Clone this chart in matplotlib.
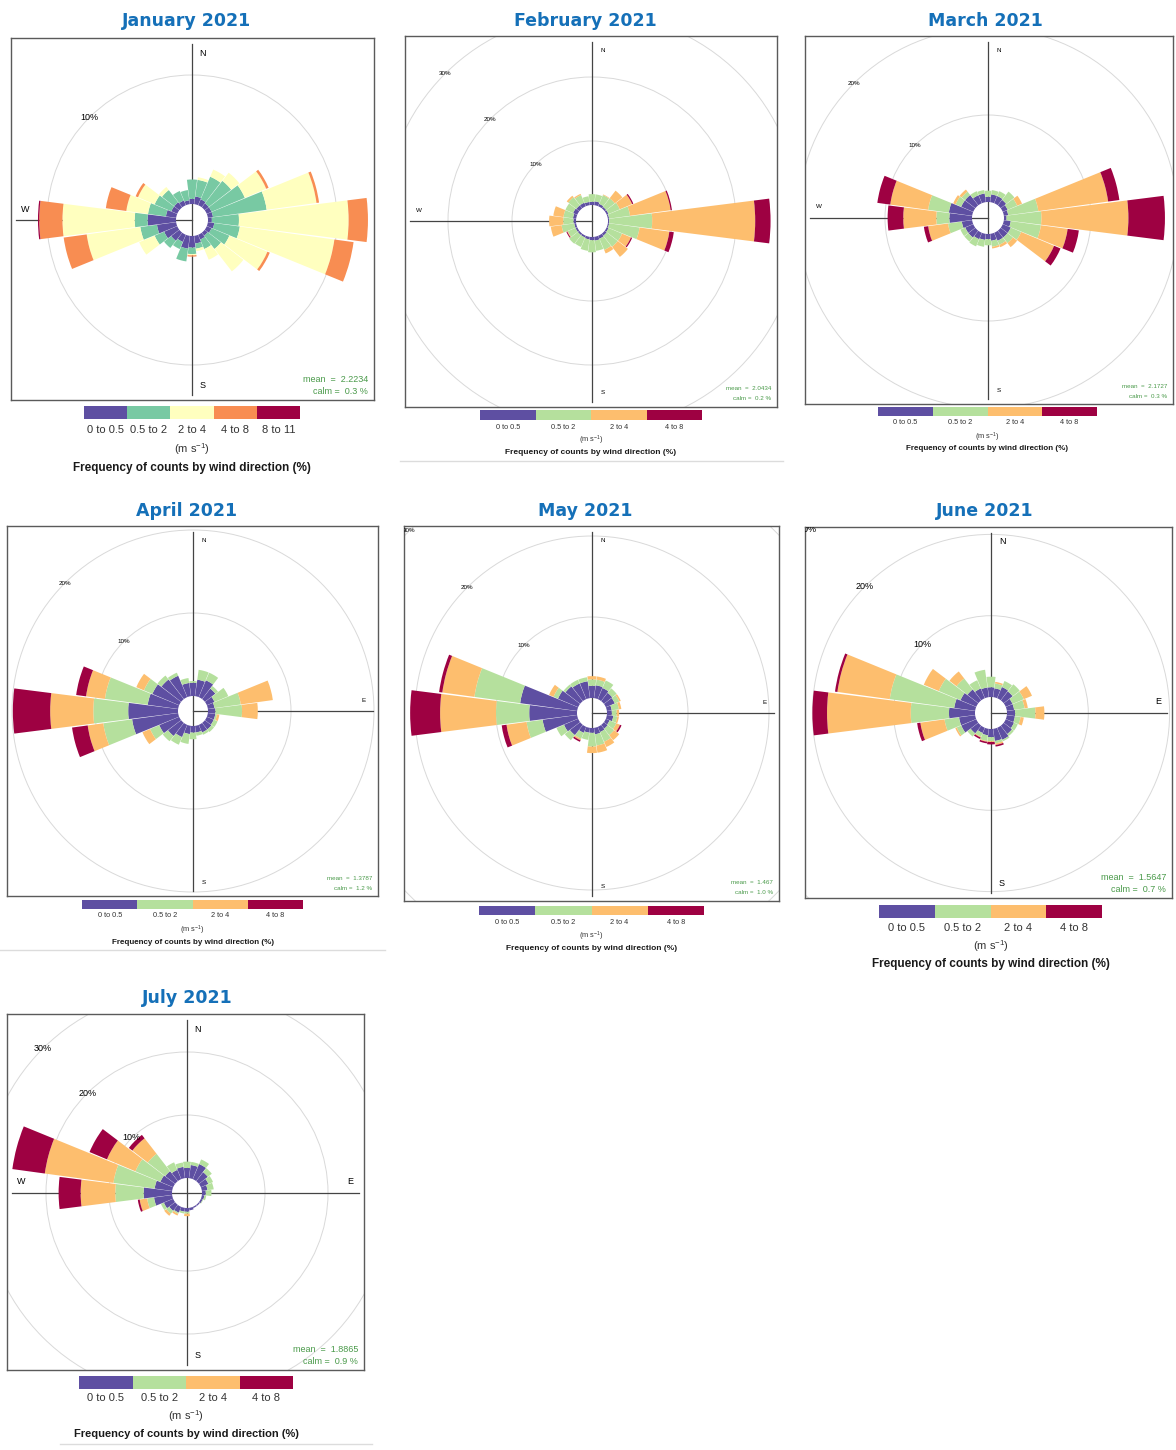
import matplotlib.pyplot as plt
import numpy as np
from matplotlib.patches import Wedge, Circle
from matplotlib.lines import Line2D

plt.rcParams['font.family'] = ['Liberation Sans', 'DejaVu Sans']
plt.rcParams['mathtext.default'] = 'regular'

W, H = 1176, 1450
fig = plt.figure(figsize=(W / 100, H / 100), dpi=100)

# wind direction sectors (15 degree bins, bearing the wind comes from)
directions = np.arange(0, 360, 15)

bands5 = ["0 to 0.5", "0.5 to 2", "2 to 4", "4 to 8", "8 to 11"]
bands4 = ["0 to 0.5", "0.5 to 2", "2 to 4", "4 to 8"]
colours5 = ["#5E4FA2", "#78C9A3", "#FFFFBF", "#F88D52", "#9E0142"]
colours4 = ["#5E4FA2", "#B5E09D", "#FDBE6E", "#9E0142"]

months = ["January 2021", "February 2021", "March 2021", "April 2021",
          "May 2021", "June 2021", "July 2021"]
means = ["2.2234", "2.0434", "2.1727", "1.3787", "1.467", "1.5647", "1.8865"]
calms = ["0.3", "0.2", "0.3", "1.2", "1.0", "0.7", "0.9"]

# cumulative frequency (%) at the top of each speed band, per direction
#          0    15   30   45   60   75   90  105  120  135  150  165  180  195  210  225  240  255  270  285  300  315  330  345
jan = [
    [0.4, 0.6, 0.5, 0.4, 0.4, 0.4, 0.3, 0.5, 0.4, 0.3, 0.4, 0.6, 0.9, 1.0, 0.6, 0.8, 1.1, 1.5, 2.2, 0.8, 0.5, 0.5, 0.4, 0.3],
    [1.9, 1.9, 2.4, 2.6, 3.2, 4.6, 2.4, 2.5, 1.9, 1.6, 1.2, 1.0, 1.4, 2.0, 1.2, 1.5, 1.9, 2.8, 3.2, 2.2, 1.9, 1.7, 1.2, 1.1],
    [1.9, 2.1, 3.0, 3.4, 5.0, 8.5, 10.9, 9.9, 5.1, 3.8, 2.1, 1.2, 1.5, 2.0, 1.2, 1.5, 3.2, 7.0, 8.8, 3.9, 3.3, 2.0, 1.2, 1.1],
    [1.9, 2.1, 3.0, 3.4, 5.2, 8.7, 12.4, 11.4, 5.3, 3.8, 2.1, 1.2, 1.6, 2.0, 1.2, 1.5, 3.2, 8.8, 10.6, 5.5, 3.5, 2.0, 1.2, 1.1],
    [1.9, 2.1, 3.0, 3.4, 5.2, 8.7, 12.4, 11.4, 5.3, 3.8, 2.1, 1.2, 1.6, 2.0, 1.2, 1.5, 3.2, 8.8, 10.7, 5.5, 3.5, 2.0, 1.2, 1.1],
]
feb = [
    [0.5, 0.6, 0.4, 0.3, 0.3, 0.2, 0.2, 0.2, 0.3, 0.4, 0.5, 0.6, 0.5, 0.4, 0.3, 0.3, 0.3, 0.3, 0.4, 0.5, 0.7, 0.6, 0.6, 0.5],
    [1.7, 1.7, 1.9, 2.0, 2.2, 3.5, 6.9, 5.0, 2.6, 2.6, 2.4, 2.2, 2.4, 2.2, 1.9, 2.0, 1.6, 2.3, 2.0, 2.0, 2.0, 2.2, 1.9, 1.4],
    [1.7, 1.7, 2.0, 3.5, 4.3, 9.9, 23.0, 9.7, 4.1, 4.6, 3.0, 2.2, 2.4, 2.2, 1.9, 2.0, 1.7, 4.0, 4.2, 3.6, 2.0, 2.5, 2.1, 1.4],
    [1.7, 1.7, 2.0, 3.5, 4.5, 10.1, 25.4, 10.4, 4.3, 4.6, 3.0, 2.2, 2.4, 2.2, 1.9, 2.0, 1.85, 4.0, 4.2, 3.6, 2.0, 2.5, 2.1, 1.4],
]
mar = [
    [0.6, 0.9, 0.9, 0.8, 0.6, 0.5, 0.3, 0.8, 1.0, 1.0, 1.0, 0.8, 0.6, 0.7, 0.8, 1.0, 1.0, 1.2, 2.6, 2.7, 1.5, 1.5, 1.0, 1.0],
    [1.3, 1.4, 1.5, 2.0, 1.8, 4.0, 4.3, 4.3, 2.3, 1.8, 1.5, 1.5, 1.3, 1.5, 1.7, 1.6, 1.6, 2.8, 4.1, 5.1, 2.2, 2.0, 1.5, 1.4],
    [1.3, 1.4, 1.5, 2.0, 2.4, 12.1, 14.3, 7.4, 6.4, 2.4, 1.8, 1.7, 1.3, 1.5, 1.7, 1.6, 1.6, 5.1, 7.9, 9.5, 2.5, 2.3, 1.5, 1.4],
    [1.3, 1.4, 1.5, 2.0, 2.4, 13.4, 18.5, 8.7, 7.2, 2.4, 1.8, 1.7, 1.3, 1.5, 1.7, 1.6, 1.6, 5.6, 9.7, 11.0, 2.5, 2.3, 1.5, 1.4],
]
apr = [
    [1.6, 2.0, 2.2, 1.6, 1.0, 0.8, 0.9, 0.9, 0.9, 1.0, 1.0, 0.8, 0.8, 1.0, 1.6, 2.0, 2.6, 5.6, 6.0, 3.7, 3.5, 3.0, 2.8, 1.6],
    [1.8, 3.2, 3.2, 2.0, 2.8, 4.0, 4.1, 1.1, 1.4, 1.4, 1.3, 1.2, 1.6, 2.2, 2.6, 2.8, 3.8, 9.1, 10.2, 8.9, 4.6, 3.6, 3.2, 2.2],
    [1.8, 3.2, 3.2, 2.0, 2.8, 7.9, 6.0, 1.4, 1.4, 1.4, 1.3, 1.2, 1.6, 2.2, 2.6, 2.8, 4.8, 11.0, 15.4, 11.2, 5.6, 3.6, 3.2, 2.2],
    [1.8, 3.2, 3.2, 2.0, 2.8, 7.9, 6.0, 1.4, 1.4, 1.4, 1.3, 1.2, 1.6, 2.2, 2.6, 2.8, 4.8, 12.9, 19.9, 12.4, 5.6, 3.6, 3.2, 2.2],
]
may = [
    [1.5, 1.6, 1.5, 1.3, 1.2, 0.6, 0.6, 0.8, 0.5, 0.6, 0.7, 0.8, 0.6, 0.6, 0.8, 1.6, 1.9, 4.3, 5.9, 7.1, 2.7, 2.3, 2.1, 2.1],
    [2.3, 2.3, 2.5, 2.0, 1.8, 1.5, 1.2, 1.3, 1.4, 1.6, 2.0, 2.2, 2.3, 1.5, 1.6, 2.4, 2.9, 6.3, 10.0, 12.8, 3.3, 2.6, 2.6, 2.6],
    [2.7, 2.7, 2.5, 2.0, 2.0, 1.8, 1.5, 1.5, 1.9, 2.4, 2.7, 3.1, 3.1, 1.5, 1.8, 2.4, 2.9, 8.8, 16.9, 16.8, 3.9, 2.6, 2.6, 2.6],
    [2.7, 2.7, 2.5, 2.0, 2.0, 1.8, 1.5, 1.5, 2.1, 2.4, 2.7, 3.1, 3.1, 1.5, 2.0, 2.4, 2.9, 9.4, 20.6, 17.2, 3.9, 2.6, 2.6, 2.6],
]
jun = [
    [1.2, 1.1, 1.5, 1.4, 0.9, 0.9, 1.0, 1.0, 1.1, 1.3, 1.6, 1.5, 1.0, 0.8, 0.7, 1.2, 2.0, 2.0, 3.2, 2.6, 2.1, 1.7, 1.3, 1.2],
    [2.5, 1.7, 2.3, 2.5, 2.4, 2.2, 3.5, 1.7, 1.6, 1.6, 1.8, 1.8, 1.5, 1.5, 1.2, 1.7, 2.6, 3.8, 7.9, 10.6, 5.0, 3.4, 2.4, 3.4],
    [2.5, 1.9, 2.3, 2.5, 3.5, 2.6, 4.6, 2.1, 1.6, 1.6, 1.8, 2.0, 1.6, 1.6, 1.3, 1.7, 2.8, 6.8, 18.2, 17.1, 7.0, 4.5, 2.4, 3.4],
    [2.5, 1.9, 2.3, 2.5, 3.5, 2.6, 4.6, 2.1, 1.6, 1.6, 1.8, 2.2, 1.9, 1.8, 1.5, 1.7, 2.8, 7.2, 20.0, 17.4, 7.0, 4.5, 2.4, 3.4],
]
jul = [
    [1.6, 2.1, 2.6, 1.8, 1.3, 0.9, 0.6, 0.4, 0.3, 0.2, 0.2, 0.4, 0.6, 0.6, 1.0, 1.2, 1.6, 2.9, 4.5, 2.8, 2.2, 2.0, 1.6, 1.8],
    [2.6, 2.6, 3.4, 2.6, 2.1, 1.9, 1.5, 0.7, 0.4, 0.2, 0.2, 0.4, 0.9, 0.9, 1.2, 1.8, 2.1, 4.0, 9.0, 9.4, 6.5, 5.5, 2.9, 2.5],
    [2.6, 2.6, 3.4, 2.6, 2.1, 1.9, 1.5, 0.7, 0.4, 0.2, 0.2, 0.4, 1.3, 0.9, 1.5, 2.2, 2.1, 5.2, 14.5, 20.4, 11.4, 8.6, 2.9, 2.5],
    [2.6, 2.6, 3.4, 2.6, 2.1, 1.9, 1.5, 0.7, 0.4, 0.2, 0.2, 0.4, 1.3, 0.9, 1.5, 2.2, 2.1, 5.5, 18.0, 25.6, 14.4, 9.3, 2.9, 2.5],
]

# page layout in pixels: frame box, rose centre, hole radius, px per percent,
# which side the E-W axis is drawn, colour key box and text rows
panels = [
    dict(freq=jan, cols=colours5, keys=bands5, box=(11, 38, 374, 400), centre=(192, 220), hole=16, scale=12.9,
         side="left", tsize=6.5, key=(84, 406, 300, 419), rows=(430, 449, 468), ksize=(8, 8.5), head=(187, 21)),
    dict(freq=feb, cols=colours4, keys=bands4, box=(405, 36, 777, 407), centre=(592, 221), hole=16, scale=6.4,
         side="left", tsize=4.5, key=(480, 410, 702, 420), rows=(427, 440, 453), ksize=(5.3, 6), head=(585, 21)),
    dict(freq=mar, cols=colours4, keys=bands4, box=(805, 36, 1173, 404), centre=(988, 218), hole=16, scale=8.7,
         side="left", tsize=4.5, key=(878, 407, 1097, 416), rows=(423, 437, 449), ksize=(5.3, 5.8), head=(985, 21)),
    dict(freq=apr, cols=colours4, keys=bands4, box=(7, 526, 378, 896), centre=(193, 711), hole=15, scale=8.3,
         side="right", tsize=4.5, key=(82, 900, 303, 909), rows=(916, 930, 943), ksize=(5.3, 5.8), head=(187, 511)),
    dict(freq=may, cols=colours4, keys=bands4, box=(404, 526, 779, 901), centre=(592, 713), hole=15, scale=8.1,
         side="right", tsize=4.5, key=(479, 906, 704, 915), rows=(922, 936, 949), ksize=(5.3, 6), head=(585, 511)),
    dict(freq=jun, cols=colours4, keys=bands4, box=(805, 527, 1172, 898), centre=(991, 713), hole=16, scale=8.13,
         side="right", tsize=6.5, key=(879, 905, 1102, 918), rows=(928, 946, 964), ksize=(8, 8.5), head=(985, 511)),
    dict(freq=jul, cols=colours4, keys=bands4, box=(7, 1014, 364, 1370), centre=(187, 1193), hole=15, scale=6.3,
         side="both", tsize=6.5, key=(79, 1376, 293, 1389), rows=(1398, 1416, 1434), ksize=(8, 8), head=(187, 998)),
]


def px_axes(x0, y0, x1, y1):
    return fig.add_axes([x0 / W, 1 - y1 / H, (x1 - x0) / W, (y1 - y0) / H])


def fig_text(x, y, s, **kw):
    fig.text(x / W, 1 - y / H, s, **kw)


def draw_rose(p, title, mean, calm):
    x0, y0, x1, y1 = p["box"]
    cx, cy = p["centre"]
    k = p["scale"]
    hole = p["hole"] / k
    ts = p["tsize"]

    def d(px, py):
        return (px - cx) / k, (cy - py) / k

    ax = px_axes(x0, y0, x1, y1)
    xlo, xhi = (x0 - cx) / k, (x1 - cx) / k
    ylo, yhi = (cy - y1) / k, (cy - y0) / k
    ax.set_xlim(xlo, xhi)
    ax.set_ylim(ylo, yhi)
    ax.set_xticks([])
    ax.set_yticks([])
    for sp in ax.spines.values():
        sp.set_color("#5a5a5a")
        sp.set_linewidth(1.0)

    # percentage rings, labelled towards the north-west
    for pct in (10, 20, 30, 40):
        r = hole + pct
        ax.add_patch(Circle((0, 0), r, fill=False, ec="#d9d9d9", lw=0.7, zorder=1))
        lx, ly = -r * np.sin(np.pi / 4), r * np.cos(np.pi / 4)
        if xlo < lx < xhi and ylo < ly < yhi:
            ax.text(lx, ly, f"{pct}%", fontsize=ts, ha="center", va="center",
                    clip_on=True, zorder=4)

    # compass axes
    ax.plot(*zip(d(cx, y0 + 6), d(cx, y1 - 5)), color="#444444", lw=0.9, zorder=2)
    if p["side"] in ("left", "both"):
        ax.plot(*zip(d(x0 + 5, cy), d(cx, cy)), color="#444444", lw=0.9, zorder=2)
        ax.text(*d(x0 + 14, cy - 11), "W", fontsize=ts, ha="center", va="center")
    if p["side"] in ("right", "both"):
        ax.plot(*zip(d(cx, cy), d(x1 - 5, cy)), color="#444444", lw=0.9, zorder=2)
        ax.text(*d(x1 - 14, cy - 11), "E", fontsize=ts, ha="center", va="center")
    ax.text(*d(cx + 11, y0 + 15), "N", fontsize=ts, ha="center", va="center")
    ax.text(*d(cx + 11, y1 - 14), "S", fontsize=ts, ha="center", va="center")

    # stacked sectors, one wedge per speed band
    hw = 7.2
    freq = p["freq"]
    for i, bearing in enumerate(directions):
        lo = 0.0
        for band, cum in enumerate(freq):
            hi = cum[i]
            if hi > lo:
                ax.add_patch(Wedge((0, 0), hole + hi, 90 - bearing - hw, 90 - bearing + hw,
                                   width=hi - lo, facecolor=p["cols"][band], lw=0, zorder=3))
                lo = hi

    dy1, dy2 = (21, 8) if ts > 5 else (18, 8)
    ax.text(*d(x1 - 6, y1 - dy1), f"mean  =  {mean}", fontsize=ts, color="#4a9a4a",
            ha="right", va="center")
    ax.text(*d(x1 - 6, y1 - dy2), f"calm =  {calm} %", fontsize=ts, color="#4a9a4a",
            ha="right", va="center")

    # title
    hx, hy = p["head"]
    fig_text(hx, hy, title, fontsize=12.5, fontweight="bold", color="#1570B8",
             family="DejaVu Sans", ha="center", va="center")

    # colour key
    kx0, ky0, kx1, ky1 = p["key"]
    kax = px_axes(kx0, ky0, kx1, ky1)
    n = len(p["keys"])
    kax.bar(np.arange(n), np.ones(n), width=1.0, color=p["cols"], lw=0)
    kax.set_xlim(-0.5, n - 0.5)
    kax.set_ylim(0, 1)
    kax.axis("off")
    step = (kx1 - kx0) / n
    lab_y, unit_y, cap_y = p["rows"]
    lsize, csize = p["ksize"]
    for j, lab in enumerate(p["keys"]):
        fig_text(kx0 + step * (j + 0.5), lab_y, lab, fontsize=lsize, color="#333333",
                 ha="center", va="center")
    mid = (kx0 + kx1) / 2
    fig_text(mid, unit_y, "(m s$^{-1}$)", fontsize=lsize, color="#333333", ha="center", va="center")
    fig_text(mid, cap_y, "Frequency of counts by wind direction (%)", fontsize=csize,
             fontweight="bold", color="#1a1a1a", ha="center", va="center")


for p, title, mean, calm in zip(panels, months, means, calms):
    draw_rose(p, title, mean, calm)

# thin rules under some of the panels
for x0, x1, y in [(400, 783, 461), (0, 385, 950), (60, 372, 1444)]:
    fig.add_artist(Line2D([x0 / W, x1 / W], [1 - y / H, 1 - y / H], color="#dcdcdc", lw=1.0))

fig.savefig("out.png", dpi=100, facecolor="white")
